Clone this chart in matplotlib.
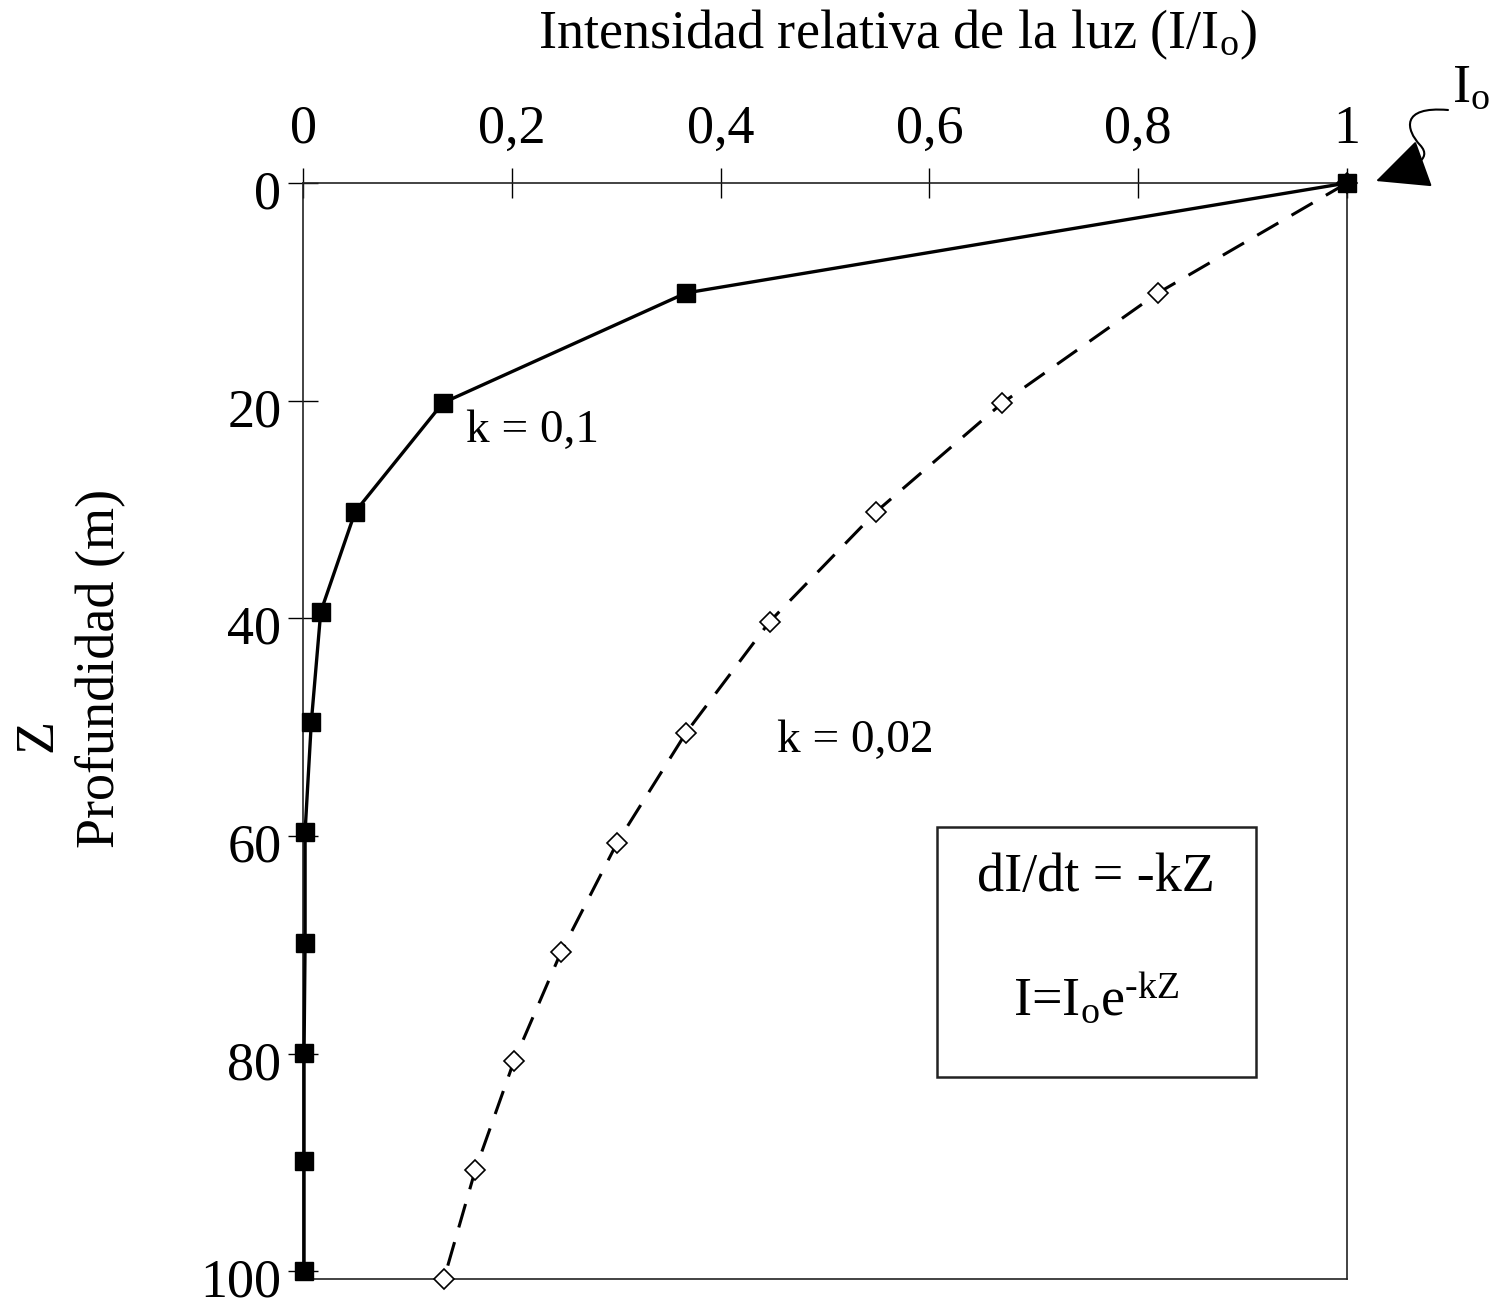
import matplotlib.pyplot as plt
from matplotlib.patches import FancyArrowPatch, Rectangle
from matplotlib.path import Path
from matplotlib.transforms import ScaledTranslation

plt.rcParams['font.family'] = 'Liberation Serif'
plt.rcParams['mathtext.fontset'] = 'custom'
plt.rcParams['mathtext.rm'] = 'Liberation Serif'
plt.rcParams['mathtext.it'] = 'Liberation Serif:italic'

# values
depth_k01 = [0, 10.1, 20.2, 30.2, 39.4, 49.5, 59.6, 69.8, 79.9, 89.9, 100]
light_k01 = [1.0, 0.367, 0.134, 0.050, 0.017, 0.008, 0.002, 0.002, 0.001, 0.001, 0.001]
depth_k002 = [0, 10.1, 20.2, 30.2, 40.3, 50.5, 60.6, 70.7, 80.7, 90.7, 100.7]
light_k002 = [1.0, 0.819, 0.670, 0.549, 0.447, 0.367, 0.301, 0.247, 0.202, 0.165, 0.135]

x_ticks = [0, 0.2, 0.4, 0.6, 0.8, 1]
x_labels = ['0', '0,2', '0,4', '0,6', '0,8', '1']
y_ticks = [0, 20, 40, 60, 80, 100]
y_labels = ['0', '20', '40', '60', '80', '100']

W, H = 1494, 1307
fig = plt.figure(figsize=(W / 100, H / 100), dpi=100)
ax = fig.add_axes([303 / W, 1 - 1279 / H, (1347 - 303) / W, (1279 - 183) / H])

ax.plot(light_k002, depth_k002, color='black', lw=2.2, ls=(0, (8, 5)),
        marker='D', ms=10, mfc='white', mec='black', mew=1.2, clip_on=False, zorder=3)
ax.plot(light_k01, depth_k01, color='black', lw=2.4,
        marker='s', ms=12.5, mfc='black', mec='black', clip_on=False, zorder=4)

ax.set_xlim(0, 1)
ax.set_ylim(100.7, 0)
ax.xaxis.tick_top()
ax.set_xticks(x_ticks)
ax.set_xticklabels(x_labels)
ax.set_yticks(y_ticks)
ax.set_yticklabels(y_labels)
ax.tick_params(axis='both', direction='inout', length=21, width=1, labelsize=39)
ax.tick_params(axis='x', pad=10)
ax.tick_params(axis='y', pad=5)
for lab in ax.get_yticklabels():
    lab.set_transform(lab.get_transform() + ScaledTranslation(0, -4.5 / 72, fig.dpi_scale_trans))
for sp in ax.spines.values():
    sp.set_linewidth(1.2)
    sp.set_color('#222222')

# titles
fig.text(898 / W, 1 - 35 / H, r'Intensidad relativa de la luz (I/I$_\mathrm{o}$)',
         ha='center', va='center', fontsize=39)
fig.text(38 / W, 1 - 735 / H, 'Z', rotation=90, ha='center', va='center', fontsize=39)
fig.text(100 / W, 1 - 668 / H, 'Profundidad (m)', rotation=90, ha='center', va='center', fontsize=39)

# curve labels
ax.text(0.156, 22.8, 'k = 0,1', fontsize=34, ha='left', va='center')
ax.text(0.454, 51.2, 'k = 0,02', fontsize=34, ha='left', va='center')

# equation box
fig.patches.append(Rectangle((937 / W, 1 - 1077 / H), (1256 - 937) / W, (1077 - 827) / H,
                             transform=fig.transFigure, fill=False, ec='#222222', lw=1.8))
fig.text(1096 / W, 1 - 878 / H, 'dI/dt = -kZ', ha='center', va='center', fontsize=39)
fig.text(1096 / W, 1 - 1000 / H, r'I=I$_\mathrm{o}$e$^{\text{-kZ}}$', ha='center', va='center', fontsize=39)

# I_o pointer
fig.text(1471 / W, 1 - 88 / H, r'I$_\mathrm{o}$', ha='center', va='center', fontsize=39)
pts = [(1448, 110), (1400, 106), (1406, 130), (1420, 145), (1434, 160), (1412, 168), (1376, 181)]
verts = [(x / W, 1 - y / H) for x, y in pts]
codes = [Path.MOVETO] + [Path.CURVE4] * 6
arrow = FancyArrowPatch(path=Path(verts, codes), transform=fig.transFigure,
                        arrowstyle='-|>,head_length=1.7,head_width=0.8',
                        mutation_scale=20, color='black', lw=1.5)
fig.patches.append(arrow)

fig.savefig('out.png', dpi=100)
